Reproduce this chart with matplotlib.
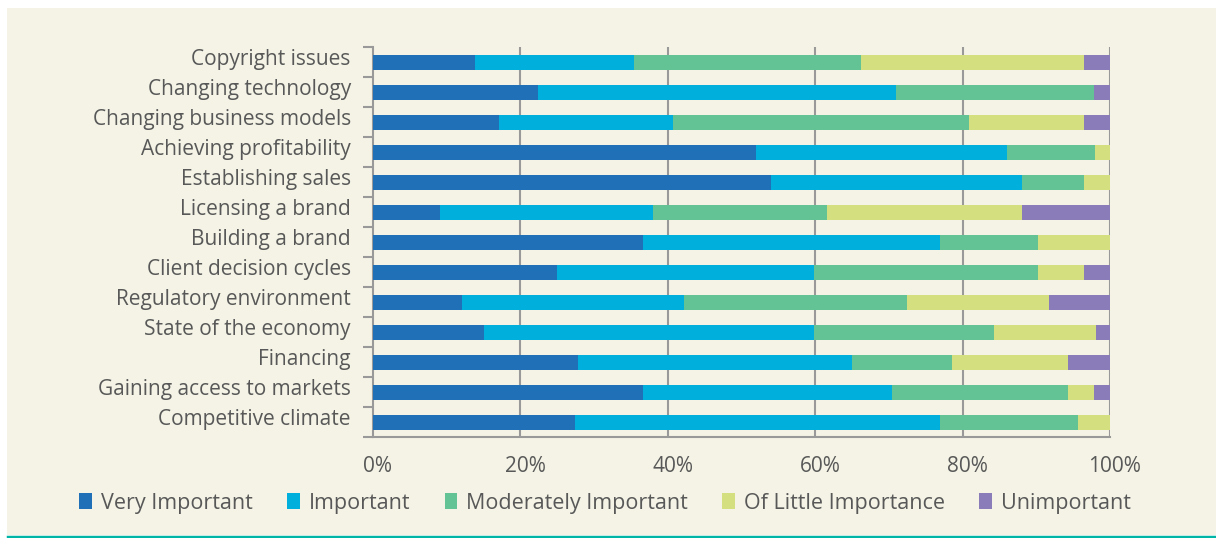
import numpy as np
import matplotlib.pyplot as plt
from matplotlib.patches import Rectangle
from matplotlib.lines import Line2D
from matplotlib.transforms import ScaledTranslation

# Survey: importance of business challenges (percent of respondents)
challenges = ['Copyright issues', 'Changing technology', 'Changing business models',
              'Achieving profitability', 'Establishing sales', 'Licensing a brand',
              'Building a brand', 'Client decision cycles', 'Regulatory environment',
              'State of the economy', 'Financing', 'Gaining access to markets',
              'Competitive climate']

very_important = [13.8, 22.4, 17.1, 52.0, 54.0, 9.1, 36.6, 25.0, 12.1, 15.1, 27.8, 36.6, 27.4]
important = [21.6, 48.6, 23.6, 34.0, 34.1, 28.9, 40.3, 34.8, 30.1, 44.7, 37.2, 33.8, 49.5]
moderately = [30.8, 26.8, 40.2, 12.0, 8.4, 23.6, 13.3, 30.4, 30.3, 24.5, 13.6, 23.9, 18.8]
little = [30.3, 0.0, 15.6, 2.0, 3.5, 26.5, 9.8, 6.3, 19.2, 13.8, 15.7, 3.5, 4.3]
unimportant = [3.5, 2.2, 3.5, 0.0, 0.0, 11.9, 0.0, 3.5, 8.3, 1.9, 5.7, 2.2, 0.0]

series_names = ['Very Important', 'Important', 'Moderately Important',
                'Of Little Importance', 'Unimportant']
colors = ['#2070b7', '#00afdc', '#63c394', '#d4e07f', '#897cb9']

bg = '#f4f3e6'
grey = '#999999'
text_col = '#585858'
plt.rcParams['font.family'] = ['Open Sans', 'DejaVu Sans']

fig = plt.figure(figsize=[12.16, 5.38], dpi=100)
fig.patch.set_facecolor('white')
# cream panel and teal rule along the bottom
fig.patches.append(Rectangle((7 / 1216, 3 / 538), 1 - 7 / 1216, 1 - 11 / 538,
                             transform=fig.transFigure, facecolor=bg, edgecolor='none', zorder=-10))
fig.lines.append(Line2D([8 / 1216, 1], [1.5 / 538, 1.5 / 538], transform=fig.transFigure,
                        color='#00b5a5', linewidth=2.5))

ax = fig.add_axes([373 / 1216, 1 - 437 / 538, 737 / 1216, 390 / 538])
ax.set_facecolor(bg)

y = np.arange(len(challenges))
left = np.zeros(len(challenges))
handles = []
for vals, name, c in zip([very_important, important, moderately, little, unimportant],
                         series_names, colors):
    vals = np.array(vals)
    b = ax.barh(y, vals, left=left, height=0.5, color=c, label=name, zorder=3)
    handles.append(b)
    left = left + vals

ax.set_xlim(0, 100)
ax.set_ylim(len(challenges) - 0.5, -0.5)

# vertical grid
for gx in [20, 40, 60, 80, 100]:
    ax.axvline(gx, color=grey, linewidth=1.5, zorder=1)

ax.set_xticks([0, 20, 40, 60, 80, 100])
ax.set_xticklabels(['0%', '20%', '40%', '60%', '80%', '100%'])
ax.tick_params(axis='x', length=0, pad=14, labelsize=15, labelcolor=text_col)
for lbl in ax.get_xticklabels():
    lbl.set_transform(lbl.get_transform() + ScaledTranslation(5 / 100, 0, fig.dpi_scale_trans))

ax.set_yticks(y)
ax.set_yticklabels(challenges)
ax.tick_params(axis='y', which='major', length=0, pad=16, labelsize=15, labelcolor=text_col)
# lift the category names a little above the bar centres
for lbl in ax.get_yticklabels():
    lbl.set_transform(lbl.get_transform() + ScaledTranslation(0, 5 / 100, fig.dpi_scale_trans))
ax.set_yticks(np.arange(-0.5, len(challenges)), minor=True)
ax.tick_params(axis='y', which='minor', length=7, width=1.5, color=grey, direction='out')

for s in ['top', 'right']:
    ax.spines[s].set_visible(False)
for s in ['left', 'bottom']:
    ax.spines[s].set_color(grey)
    ax.spines[s].set_linewidth(1.5)

fig.legend(handles=handles, labels=series_names, loc='center left',
           bbox_to_anchor=(60 / 1216, 1 - 503 / 538), ncol=5, frameon=False,
           handlelength=0.6, handleheight=0.7, handletextpad=0.4, columnspacing=1.6,
           fontsize=15.5, labelcolor=text_col)

plt.savefig('out.png', dpi=100, facecolor=fig.get_facecolor())
